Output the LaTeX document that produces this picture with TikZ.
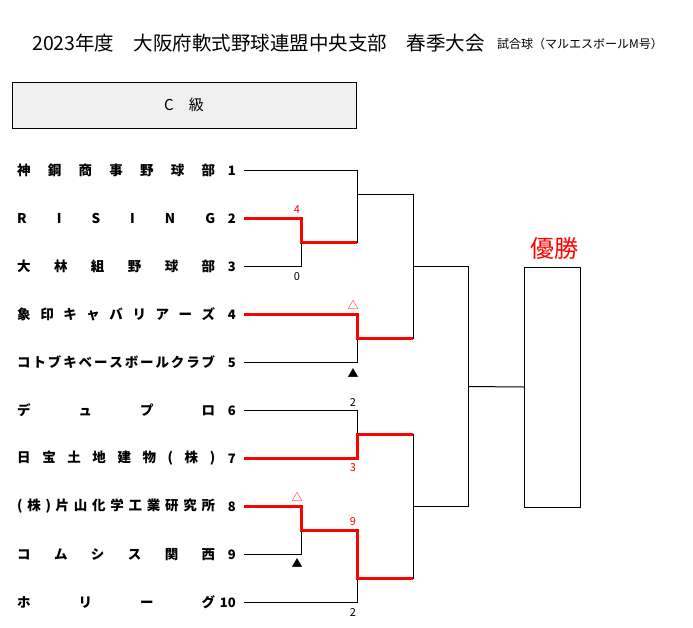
\documentclass[tikz,border=0pt]{standalone}
\usepackage{fontspec}
\setmainfont{Noto Sans CJK JP}
\definecolor{boxgray}{HTML}{F0F0F0}
\newcommand\teamspread[1]{\makebox[198pt][s]{#1}}
\begin{document}
\begin{tikzpicture}[x=1pt,y=-1pt,
  ln/.style={black, line width=1pt, line join=miter},
  win/.style={red, line width=3pt, line join=miter},
  team/.style={anchor=west, inner sep=0pt, font=\fontsize{13.5}{14}\selectfont\bfseries},
  num/.style={anchor=east, inner sep=0pt, font=\fontsize{13}{14}\selectfont\bfseries},
  score/.style={inner sep=0pt, font=\fontsize{11}{12}\selectfont},
  symb/.style={inner sep=0pt, font=\fontsize{11}{12}\selectfont}
]
\fill[white] (0,0) rectangle (693,627);
\useasboundingbox (0,0) rectangle (693,627);

% title
\node[anchor=west, inner sep=0pt, font=\fontsize{19.5}{20}\selectfont] (title) at (32,43)
  {2023年度　大阪府軟式野球連盟中央支部　春季大会};
\node[anchor=west, inner sep=0pt, font=\fontsize{12}{13}\selectfont] (ball) at (497,43.5)
  {試合球（マルエスボールM号）};

% class box
\node[draw, line width=1pt, fill=boxgray, minimum width=344pt, minimum height=46pt, inner sep=0pt,
  font=\fontsize{15}{16}\selectfont] (cls) at (184,105) {C　級};

% teams
\node[team] (n1) at (17,170.5) {\teamspread{神\hfill 鋼\hfill 商\hfill 事\hfill 野\hfill 球\hfill 部}};
\node[team] (n2) at (17,218.5) {\teamspread{R\hfill I\hfill S\hfill I\hfill N\hfill G}};
\node[team] (n3) at (17,266.5) {\teamspread{大\hfill 林\hfill 組\hfill 野\hfill 球\hfill 部}};
\node[team] (n4) at (17,314.5) {\teamspread{象\hfill 印\hfill キ\hfill ャ\hfill バ\hfill リ\hfill ア\hfill ー\hfill ズ}};
\node[team] (n5) at (17,362.5) {\teamspread{コ\hfill ト\hfill ブ\hfill キ\hfill ベ\hfill ー\hfill ス\hfill ボ\hfill ー\hfill ル\hfill ク\hfill ラ\hfill ブ}};
\node[team] (n6) at (17,410.5) {\teamspread{デ\hfill ュ\hfill プ\hfill ロ}};
\node[team] (n7) at (17,458.5) {\teamspread{日\hfill 宝\hfill 土\hfill 地\hfill 建\hfill 物\hfill (\hfill 株\hfill )}};
\node[team] (n8) at (17,506.5) {\teamspread{(\hfill 株\hfill )\hfill 片\hfill 山\hfill 化\hfill 学\hfill 工\hfill 業\hfill 研\hfill 究\hfill 所}};
\node[team] (n9) at (17,554.5) {\teamspread{コ\hfill ム\hfill シ\hfill ス\hfill 関\hfill 西}};
\node[team] (n10) at (17,602.5) {\teamspread{ホ\hfill リ\hfill ー\hfill グ}};

\foreach \i/\yy in {1/170.5,2/218.5,3/266.5,4/314.5,5/362.5,6/410.5,7/458.5,8/506.5,9/554.5,10/602.5}{
  \node[num] (k\i) at (236,\yy) {\i};
  \coordinate (t\i) at (244,\yy);
}

% junctions
\coordinate (A) at (301,242.5);
\coordinate (B) at (357,194.5);
\coordinate (C) at (357,338.5);
\coordinate (S1) at (413,266.5);
\coordinate (D) at (357,434.5);
\coordinate (E) at (301,530.5);
\coordinate (F) at (357,578.5);
\coordinate (S2) at (413,506.5);
\coordinate (Fn) at (468,386.5);

% champion box
\node[draw, line width=1pt, minimum width=56pt, minimum height=240pt, inner sep=0pt, anchor=north west] (champ) at (524,266.5) {};
\node[text=red, inner sep=0pt, font=\fontsize{24}{24}\selectfont] (yusho) at (554,248) {優勝};

% black bracket
\draw[ln] (t2) -| (A);
\draw[ln] (t3) -| (A);
\draw[ln] (t1) -| (B);
\draw[ln] (A) -| (B);
\draw[ln] (t4) -| (C);
\draw[ln] (t5) -| (C);
\draw[ln] (B) -| (S1);
\draw[ln] (C) -| (S1);
\draw[ln] (t6) -| (D);
\draw[ln] (t7) -| (D);
\draw[ln] (t8) -| (E);
\draw[ln] (t9) -| (E);
\draw[ln] (E) -| (F);
\draw[ln] (t10) -| (F);
\draw[ln] (D) -| (S2);
\draw[ln] (F) -| (S2);
\draw[ln] (S1) -| (Fn);
\draw[ln] (S2) -| (Fn);
\draw[ln] (Fn) -- (champ.west);

% winners
\draw[win] (t2) -| (A) -- (A -| B);
\draw[win] (t4) -| (C) -- (C -| S1);
\draw[win] (t7) -| (D) -- (D -| S2);
\draw[win] (t8) -| (E) -| (F) -- (F -| S2);

% scores and marks
\node[score, text=red] (s4) at (297,210) {4};
\node[score] (s0) at (297,277) {0};
\node[symb, text=red] (m1) at (353,305) {△};
\node[symb] (m2) at (353,373) {▲};
\node[score] (s2a) at (353,402) {2};
\node[score, text=red] (s3) at (353,468) {3};
\node[symb, text=red] (m3) at (297,497) {△};
\node[score, text=red] (s9) at (353,522) {9};
\node[symb] (m4) at (297,563) {▲};
\node[score] (s2b) at (353,612) {2};
\end{tikzpicture}
\end{document}
